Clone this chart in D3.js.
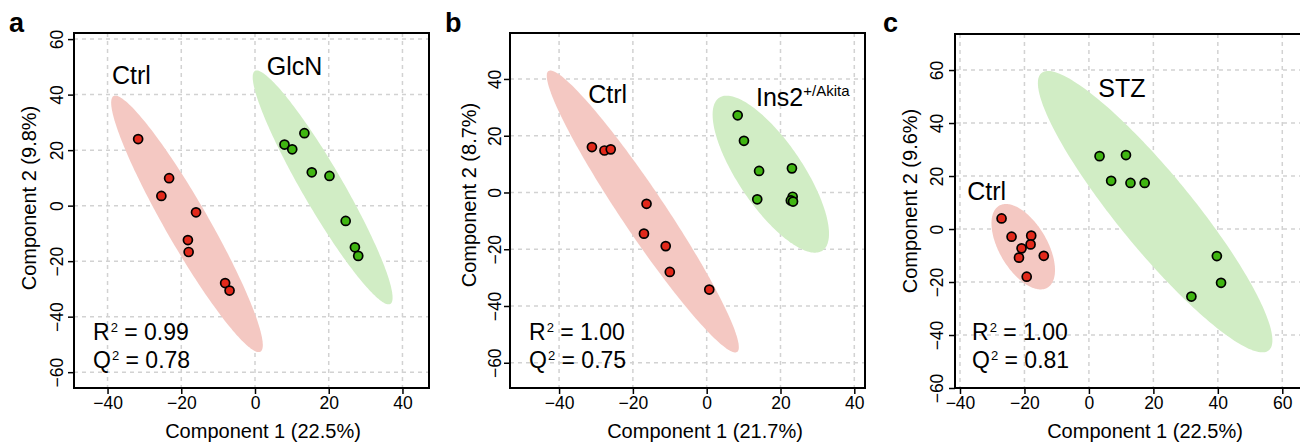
<!DOCTYPE html>
<html><head><meta charset="utf-8">
<script src="https://cdn.jsdelivr.net/npm/d3@7"></script>
<style>
html,body{margin:0;padding:0;background:#fff;}
svg{display:block;}
text{font-family:"Liberation Sans",Arial,sans-serif;fill:#000;}
</style></head>
<body>
<svg id="chart" width="1300" height="442"></svg>
<script>
// ---------------- DATA ----------------
const panelLetters = ["a", "b", "c"];
const xTitles = ["Component 1 (22.5%)", "Component 1 (21.7%)", "Component 1 (22.5%)"];
const yTitles = ["Component 2 (9.8%)", "Component 2 (8.7%)", "Component 2 (9.6%)"];
const xTicks = [[-40, -20, 0, 20, 40], [-40, -20, 0, 20, 40], [-40, -20, 0, 20, 40, 60]];
const yTicks = [[-60, -40, -20, 0, 20, 40, 60], [-60, -40, -20, 0, 20, 40], [-60, -40, -20, 0, 20, 40, 60]];
const xDomains = [[-49.1, 47.2], [-53.3, 42.9], [-41.55, 68.6]];
const yDomains = [[-65.7, 62.2], [-68.9, 56.2], [-60, 73.6]];

const ctrlNames = ["Ctrl", "Ctrl", "Ctrl"];
const treatNames = ["GlcN", "Ins2", "STZ"];
const treatSup = ["", "+/Akita", ""];
const r2Values = ["0.99", "1.00", "1.00"];
const q2Values = ["0.78", "0.75", "0.81"];

// panel a
const ctrlA_x = [-31.7, -23.3, -25.4, -16.0, -18.2, -18.0, -8.1, -6.9];
const ctrlA_y = [24.0, 9.9, 3.5, -2.4, -12.4, -16.7, -27.9, -30.6];
const glcnA_x = [8.0, 10.1, 13.4, 15.4, 20.2, 24.6, 27.1, 28.0];
const glcnA_y = [22.0, 20.3, 26.1, 12.0, 10.7, -5.5, -15.0, -18.1];
// panel b
const ctrlB_x = [-31.1, -27.7, -26.0, -16.3, -17.0, -11.1, -10.0, 0.7];
const ctrlB_y = [16.0, 14.8, 15.2, -4.0, -14.5, -18.9, -28.0, -34.2];
const akitaB_x = [8.4, 10.1, 14.2, 23.1, 13.7, 23.3, 22.8, 23.4];
const akitaB_y = [27.2, 18.2, 7.6, 8.5, -2.4, -1.5, -2.8, -3.2];
// panel c
const ctrlC_x = [-27.1, -24.0, -17.9, -18.1, -20.9, -21.7, -14.0, -19.3];
const ctrlC_y = [4.0, -2.9, -2.5, -5.8, -7.3, -10.8, -10.1, -18.0];
const stzC_x = [3.3, 11.5, 6.9, 12.9, 17.3, 39.7, 41.0, 31.8];
const stzC_y = [27.5, 27.9, 18.2, 17.4, 17.4, -10.2, -20.3, -25.5];

const ctrlXs = [ctrlA_x, ctrlB_x, ctrlC_x];
const ctrlYs = [ctrlA_y, ctrlB_y, ctrlC_y];
const treatXs = [glcnA_x, akitaB_x, stzC_x];
const treatYs = [glcnA_y, akitaB_y, stzC_y];

// ---------------- LAYOUT / STYLE ----------------
const layout = [
  {left: 74, top: 33, w: 355, h: 355, letterX: 9, ytickBase: 62.5, ytitleX: 36, ytitleY: 198, xtitleX: 263,
   ctrlLab: [38, 51], treatLab: [192.7, 42], statX: 19},
  {left: 510, top: 33, w: 355, h: 355, letterX: 445, ytickBase: 501, ytitleX: 476, ytitleY: 195, xtitleX: 705,
   ctrlLab: [78.3, 70.3], treatLab: [246, 73], statX: 19},
  {left: 955, top: 34, w: 355, h: 354, letterX: 883, ytickBase: 943, ytitleX: 917, ytitleY: 201, xtitleX: 1145,
   ctrlLab: [12.3, 166], treatLab: [143.3, 62.7], statX: 17}
];
const colCtrl = "#E2291B", colTreat = "#40B512";
const fillCtrl = "#F4C8C2", fillTreat = "#D1EDC5";
const gridCol = "#d2d2d2";
const CHI = Math.sqrt(5.991464547107979); // sqrt(qchisq(0.95, 2))

const svg = d3.select("#chart");

function ellipsePoints(xs, ys) {
  const n = xs.length;
  const mx = d3.mean(xs), my = d3.mean(ys);
  const sx = d3.deviation(xs), sy = d3.deviation(ys);
  let cxy = 0;
  for (let i = 0; i < n; i++) cxy += (xs[i] - mx) * (ys[i] - my);
  cxy /= (n - 1);
  const r = cxy / (sx * sy);
  const d = Math.acos(r);
  const pts = [];
  for (let k = 0; k < 200; k++) {
    const a = 2 * Math.PI * k / 200;
    pts.push([mx + CHI * sx * Math.cos(a + d / 2), my + CHI * sy * Math.cos(a - d / 2)]);
  }
  return pts;
}

panelLetters.forEach((letter, i) => {
  const L = layout[i];
  const x = d3.scaleLinear().domain(xDomains[i]).range([L.left, L.left + L.w]);
  const y = d3.scaleLinear().domain(yDomains[i]).range([L.top + L.h, L.top]);
  const g = svg.append("g");
  const clipId = "clip" + i;
  svg.append("defs").append("clipPath").attr("id", clipId)
    .append("rect").attr("x", L.left).attr("y", L.top).attr("width", L.w).attr("height", L.h);

  // grid
  const grid = g.append("g").attr("clip-path", `url(#${clipId})`);
  grid.selectAll("line.vx").data(xTicks[i]).join("line")
    .attr("x1", d => x(d)).attr("x2", d => x(d)).attr("y1", L.top).attr("y2", L.top + L.h)
    .attr("stroke", gridCol).attr("stroke-width", 1.5).attr("stroke-dasharray", "4,4");
  grid.selectAll("line.hy").data(yTicks[i]).join("line")
    .attr("y1", d => y(d)).attr("y2", d => y(d)).attr("x1", L.left).attr("x2", L.left + L.w)
    .attr("stroke", gridCol).attr("stroke-width", 1.5).attr("stroke-dasharray", "4,4");

  // ellipses
  const line = d3.line().x(d => x(d[0])).y(d => y(d[1])).curve(d3.curveLinearClosed);
  const eg = g.append("g").attr("clip-path", `url(#${clipId})`);
  eg.append("path").attr("d", line(ellipsePoints(ctrlXs[i], ctrlYs[i]))).attr("fill", fillCtrl);
  eg.append("path").attr("d", line(ellipsePoints(treatXs[i], treatYs[i]))).attr("fill", fillTreat);

  // points
  const ctrlPts = ctrlXs[i].map((v, k) => [v, ctrlYs[i][k]]);
  const trPts = treatXs[i].map((v, k) => [v, treatYs[i][k]]);
  g.append("g").selectAll("circle").data(ctrlPts).join("circle")
    .attr("cx", d => x(d[0])).attr("cy", d => y(d[1])).attr("r", 4.5)
    .attr("fill", colCtrl).attr("stroke", "#000").attr("stroke-width", 1.7);
  g.append("g").selectAll("circle").data(trPts).join("circle")
    .attr("cx", d => x(d[0])).attr("cy", d => y(d[1])).attr("r", 4.5)
    .attr("fill", colTreat).attr("stroke", "#000").attr("stroke-width", 1.7);

  // box
  g.append("rect").attr("x", L.left).attr("y", L.top).attr("width", L.w).attr("height", L.h)
    .attr("fill", "none").attr("stroke", "#000").attr("stroke-width", 2);

  // axes
  const xAxis = d3.axisBottom(x).tickValues(xTicks[i]).tickSize(6).tickPadding(3).tickFormat(d3.format("d"));
  const xg = g.append("g").attr("transform", `translate(0,${L.top + L.h})`).call(xAxis);
  xg.select(".domain").remove();
  xg.selectAll("line").attr("stroke", "#000").attr("stroke-width", 1.5);
  xg.selectAll("text").attr("font-size", 17.5).attr("font-family", "Liberation Sans, Arial, sans-serif")
    .attr("y", null).attr("dy", null).attr("transform", null)
    .attr("y", 409 - (L.top + L.h)).attr("fill", "#000");

  const yAxis = d3.axisLeft(y).tickValues(yTicks[i]).tickSize(6).tickFormat(d3.format("d"));
  const yg = g.append("g").attr("transform", `translate(${L.left},0)`).call(yAxis);
  yg.select(".domain").remove();
  yg.selectAll("line").attr("stroke", "#000").attr("stroke-width", 1.5);
  yg.selectAll(".tick text").each(function(d) {
    const t = d3.select(this);
    t.attr("x", null).attr("dy", null).attr("text-anchor", "middle")
      .attr("font-size", 17.5).attr("font-family", "Liberation Sans, Arial, sans-serif").attr("fill", "#000")
      .attr("transform", `translate(${L.ytickBase - L.left},0) rotate(-90)`).attr("x", 0).attr("y", 0);
  });

  // axis titles
  svg.append("text").attr("x", L.xtitleX).attr("y", 438).attr("text-anchor", "middle")
    .attr("font-size", 20).text(xTitles[i]);
  svg.append("text").attr("transform", `translate(${L.ytitleX},${L.ytitleY}) rotate(-90)`)
    .attr("text-anchor", "middle").attr("font-size", 20).text(yTitles[i]);

  // panel letter
  svg.append("text").attr("x", L.letterX).attr("y", 32).attr("font-size", 27).attr("font-weight", "bold")
    .text(letter);

  // group labels
  svg.append("text").attr("x", L.left + L.ctrlLab[0]).attr("y", L.top + L.ctrlLab[1])
    .attr("font-size", 25).text(ctrlNames[i]);
  const tl = svg.append("text").attr("x", L.left + L.treatLab[0]).attr("y", L.top + L.treatLab[1])
    .attr("font-size", 25);
  tl.append("tspan").text(treatNames[i]);
  if (treatSup[i]) tl.append("tspan").attr("font-size", 15).attr("dy", -10).text(treatSup[i]);

  // stats
  const addStat = (lab, val, yy) => {
    const t = svg.append("text").attr("x", L.left + L.statX).attr("y", yy).attr("font-size", 23);
    t.append("tspan").text(lab);
    t.append("tspan").attr("font-size", 13).attr("dy", -8).attr("dx", 1).text("2");
    t.append("tspan").attr("dy", 8).text(" = " + val);
  };
  addStat("R", r2Values[i], 340);
  addStat("Q", q2Values[i], 368);
});
</script>
</body></html>
